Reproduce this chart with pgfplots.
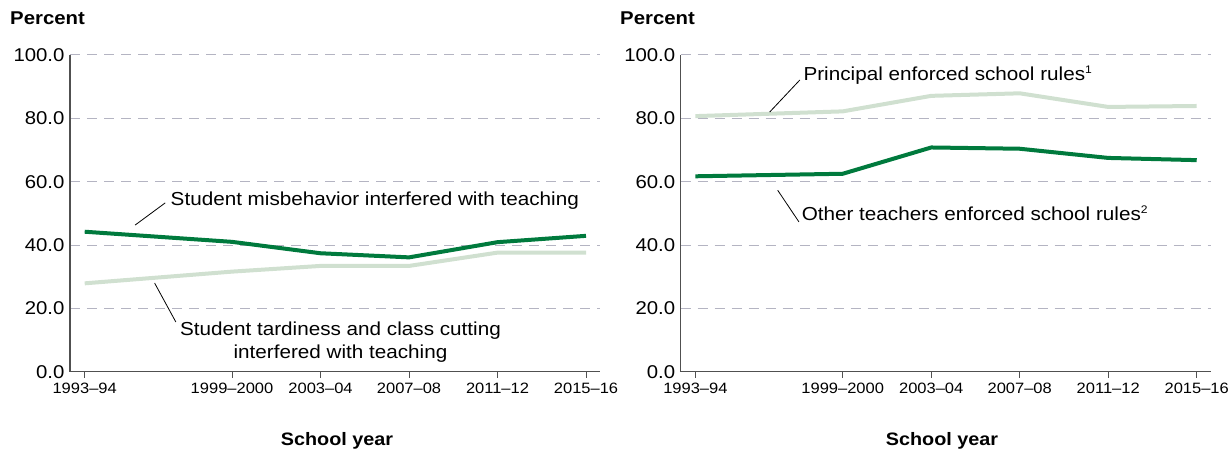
\documentclass[border=0pt]{standalone}
\usepackage{fontspec}
\setmainfont{Liberation Sans}[FakeStretch=1.1]
\usepackage{pgfplots}
\pgfplotsset{compat=1.18}

\definecolor{dkgreen}{RGB}{0,122,61}
\definecolor{ltgreen}{RGB}{208,224,208}
\definecolor{gridc}{RGB}{180,180,194}
\definecolor{axc}{RGB}{80,80,80}

\newcommand{\fnmark}[1]{\raisebox{0.75ex}{\fontsize{11}{11}\selectfont #1}}

\pgfplotsset{
  panel/.style={
    scale only axis, width=530pt, height=316.7pt,
    xmin=-0.166, xmax=5.823, ymin=0, ymax=100,
    axis x line*=bottom, axis y line*=left,
    axis line style={axc, line width=1.1pt, -},
    xtick={0,1.665,2.665,3.665,4.665,5.665},
    xticklabels={1993--94,1999--2000,2003--04,2007--08,2011--12,2015--16},
    ytick={0,20,40,60,80,100},
    yticklabels={0.0,20.0,40.0,60.0,80.0,100.0},
    xtick align=outside, major tick length=6pt,
    xtick style={axc, line width=1pt},
    ytick style={draw=none},
    ymajorgrids, major grid style={gridc, line width=1pt, dash pattern=on 10pt off 7pt},
    xticklabel style={font=\fontsize{15}{15}\selectfont, yshift=-2pt},
    yticklabel style={font=\fontsize{18.5}{18.5}\selectfont, xshift=-2pt},
    clip=false,
  },
  dk/.style={dkgreen, line width=4pt, line join=round},
  lt/.style={ltgreen, line width=4pt, line join=round},
}

\begin{document}
\begin{tikzpicture}
\useasboundingbox (0,0) rectangle (1228pt,453pt);

% left panel
\begin{axis}[panel, at={(70pt,81.3pt)}, anchor=south west]
\addplot[lt] coordinates {(0,27.9)(1.665,31.6)(2.665,33.4)(3.665,33.4)(4.665,37.6)(5.665,37.6)};
\addplot[dk] coordinates {(0,44.2)(1.665,41.0)(2.665,37.4)(3.665,36.1)(4.665,40.9)(5.665,42.9)};
\draw[black, line width=0.8pt] (axis cs:0.57,46.3) -- (axis cs:0.91,53.3);
\node[anchor=west, inner sep=0pt, font=\fontsize{18.8}{18.8}\selectfont] at (axis cs:0.97,53.9) {Student misbehavior interfered with teaching};
\draw[black, line width=0.8pt] (axis cs:0.79,28.0) -- (axis cs:1.03,15.7);
\node[align=center, inner sep=0pt, font=\fontsize{18.8}{23}\selectfont] at (axis cs:2.89,9.3) {Student tardiness and class cutting\\interfered with teaching};
\end{axis}

% right panel
\begin{axis}[panel, at={(680.7pt,81.3pt)}, anchor=south west]
\addplot[lt] coordinates {(0,80.7)(1.665,82.2)(2.665,87.1)(3.665,87.9)(4.665,83.6)(5.665,83.9)};
\addplot[dk] coordinates {(0,61.7)(1.665,62.5)(2.665,70.8)(3.665,70.4)(4.665,67.5)(5.665,66.8)};
\draw[black, line width=0.8pt] (axis cs:0.84,82.0) -- (axis cs:1.18,92.1);
\node[anchor=west, inner sep=0pt, font=\fontsize{18.8}{18.8}\selectfont] at (axis cs:1.22,93.7) {Principal enforced school rules\fnmark{1}};
\draw[black, line width=0.8pt] (axis cs:0.93,57.3) -- (axis cs:1.17,47.3);
\node[anchor=west, inner sep=0pt, font=\fontsize{18.8}{18.8}\selectfont] at (axis cs:1.20,50.1) {Other teachers enforced school rules\fnmark{2}};
\end{axis}

\node[anchor=west, inner sep=0pt, font=\bfseries\fontsize{18.5}{18.5}\selectfont] at (10pt,435pt) {Percent};
\node[anchor=west, inner sep=0pt, font=\bfseries\fontsize{18.5}{18.5}\selectfont] at (620pt,435pt) {Percent};
\node[inner sep=0pt, font=\bfseries\fontsize{18}{18}\selectfont] at (337pt,12pt) {School year};
\node[inner sep=0pt, font=\bfseries\fontsize{18}{18}\selectfont] at (942pt,12pt) {School year};
\end{tikzpicture}
\end{document}
